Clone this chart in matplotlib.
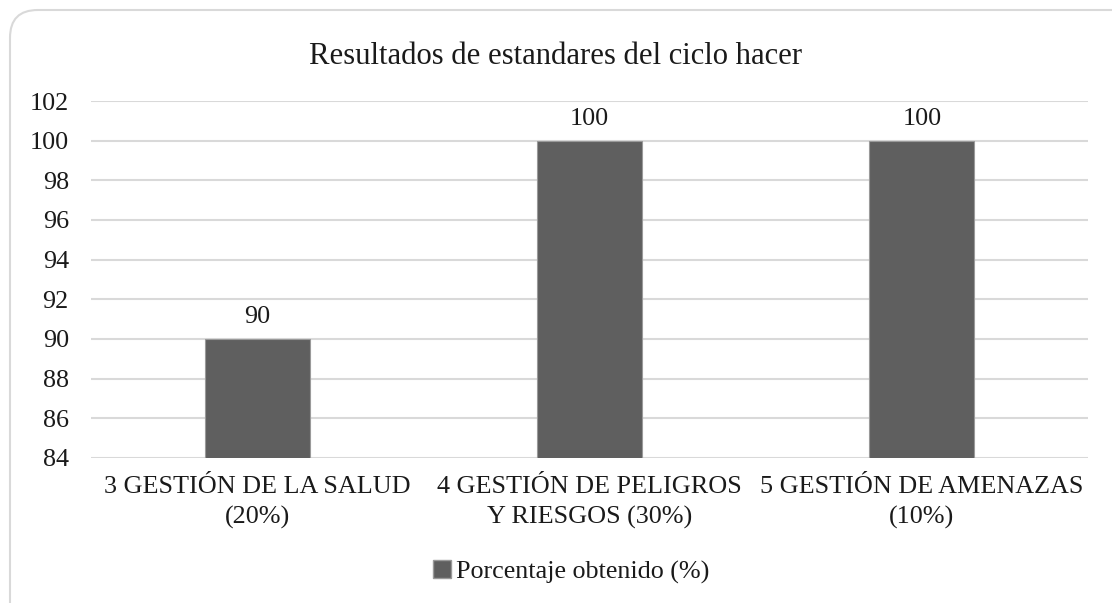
import matplotlib
matplotlib.use('Agg')
import matplotlib.pyplot as plt
from matplotlib.patches import FancyBboxPatch, Patch

categorias = ['3 GESTIÓN DE LA SALUD\n(20%)',
              '4 GESTIÓN DE PELIGROS\nY RIESGOS (30%)',
              '5 GESTIÓN DE AMENAZAS\n(10%)']
valores = [90, 100, 100]
y_ticks = list(range(84, 103, 2))
serie = 'Porcentaje obtenido (%)'

plt.rcParams['font.family'] = ['Liberation Serif', 'DejaVu Serif']
fs = 18.8
txt = '#1a1a1a'

fig = plt.figure(figsize=(11.12, 6.03), dpi=100)

# marco redondeado estilo Excel (se sale por la derecha y por abajo)
marco = FancyBboxPatch((10 / 1112, -0.1), 1.05, 1.1 - 10 / 603,
                       boxstyle='round,pad=0,rounding_size=0.025',
                       transform=fig.transFigure, facecolor='none',
                       edgecolor='#d9d9d9', linewidth=1.5, zorder=5,
                       mutation_aspect=1112 / 603)
fig.patches.append(marco)

ax = fig.add_axes([91 / 1112, 1 - 458 / 603, (1088 - 91) / 1112, (458 - 101) / 603])
ax.set_facecolor('none')

x = range(len(categorias))
barras = ax.bar(x, valores, width=0.316, color='#5f5f5f', edgecolor='#9a9a9a',
                linewidth=0.8, zorder=3)
for b, v in zip(barras, valores):
    ax.text(b.get_x() + b.get_width() / 2, v + 0.55, str(v), ha='center',
            va='bottom', fontsize=fs, color=txt)

ax.set_ylim(84, 102)
ax.set_xlim(-0.5, 2.5)
ax.set_yticks(y_ticks)
ax.set_xticks(list(x))
ax.set_xticklabels(categorias, fontsize=fs, color=txt, linespacing=1.42)
ax.tick_params(axis='y', labelsize=fs, colors=txt, length=0, pad=16)
ax.tick_params(axis='x', length=0, pad=13)
ax.grid(axis='y', color='#d9d9d9', linewidth=1.5, zorder=0)
for s in ax.spines.values():
    s.set_visible(False)

fig.text(0.5, 1 - 57 / 603, 'Resultados de estandares del ciclo hacer',
         ha='center', va='center', fontsize=22.1, color=txt)

fig.legend(handles=[Patch(facecolor='#5f5f5f', edgecolor='#9a9a9a', label=serie)],
           loc='center', bbox_to_anchor=(571 / 1112, 1 - 572 / 603), frameon=False,
           fontsize=fs, handlelength=0.68, handleheight=0.68, handletextpad=0.2,
           labelcolor=txt)

fig.savefig('out.png', dpi=100)
